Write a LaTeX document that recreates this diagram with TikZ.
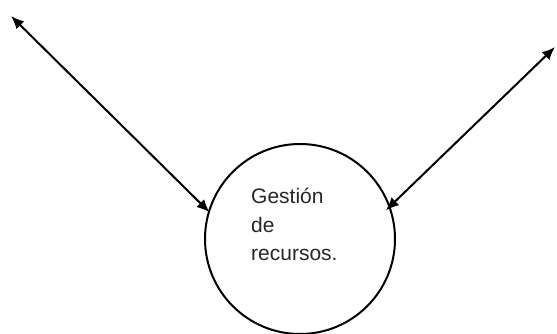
\documentclass[tikz,border=0pt]{standalone}
\usepackage{fontspec}
\setmainfont{Liberation Sans}
\usetikzlibrary{arrows.meta}
\begin{document}
\begin{tikzpicture}[x=1pt,y=-1pt,
  link/.style={line width=2pt,{Latex[length=13pt,width=11pt]}-{Latex[length=13pt,width=11pt]}},
  procbox/.style={circle,draw,line width=2pt,minimum size=190pt,inner sep=0pt},
  label/.style={anchor=base west,inner sep=0pt,font=\fontsize{21pt}{29pt}\selectfont,text=black!85}]
  \useasboundingbox (0,0) rectangle (557,334);
  \node[procbox] (proc) at (300,239) {};
  \node[label] (l1) at (251,203) {Gestión};
  \node[label] (l2) at (251,232) {de};
  \node[label] (l3) at (251,260) {recursos.};
  \coordinate (nw) at (11,16);
  \coordinate (ne) at (555,47);
  \draw[link,shorten >=-2pt] (nw) -- (proc.163);
  \draw[link,shorten >=-6pt] (ne) -- (proc.20);
\end{tikzpicture}
\end{document}
